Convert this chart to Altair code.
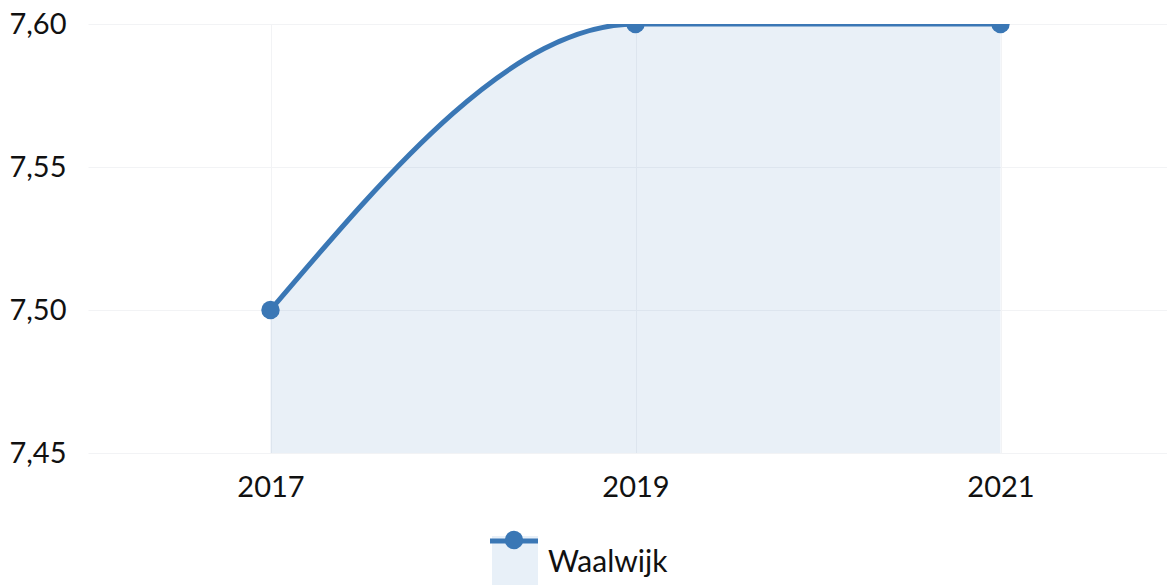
import altair as alt
import pandas as pd

years = ["2017", "2019", "2021"]
values = [7.50, 7.60, 7.60]
series = ["Waalwijk"]
y_ticks = [7.45, 7.50, 7.55, 7.60]
y_domain = [7.45, 7.60]

df = pd.DataFrame({"jaar": years, "waarde": values, "reeks": series * len(years)})
legend_df = pd.DataFrame({"reeks": series})

BLUE = "#3a77b5"
FILL = "#e8f0f8"
GRID = "#f2f3f5"
FONT = "Lato"
FS = 29
W, H = 1095, 429

x = alt.X("jaar:O", scale=alt.Scale(type="point", padding=0.5),
          axis=alt.Axis(title=None, labelAngle=0, labelFontSize=FS, labelPadding=20,
                        ticks=False, domain=False, grid=True, gridColor=GRID,
                        labelFont=FONT, labelColor="#111"))
y = alt.Y("waarde:Q", scale=alt.Scale(domain=y_domain, zero=False, nice=False),
          axis=alt.Axis(title=None, values=y_ticks,
                        labelExpr="replace(format(datum.value, '.2f'), '.', ',')",
                        ticks=False, domain=False, grid=True, gridColor=GRID,
                        labelFontSize=FS, labelPadding=22, labelFont=FONT, labelColor="#111"))

base = alt.Chart(df)
area = base.mark_area(interpolate="monotone", color=BLUE, opacity=0.11, clip=True).encode(x=x, y=y)
line = base.mark_line(interpolate="monotone", color=BLUE, strokeWidth=5, clip=True).encode(x=x, y=y)
points = base.mark_circle(size=340, color=BLUE, opacity=1, clip=True).encode(x=x, y=y)

lb = alt.Chart(legend_df)
leg_rect = lb.mark_rect(color=FILL).encode(
    x=alt.value(404), x2=alt.value(450), y=alt.value(H + 83), y2=alt.value(H + 140))
leg_line = lb.mark_rule(color=BLUE, strokeWidth=5).encode(
    x=alt.value(402), x2=alt.value(450), y=alt.value(H + 88))
leg_pt = lb.mark_circle(size=340, color=BLUE, opacity=1).encode(
    x=alt.value(426), y=alt.value(H + 87))
leg_text = lb.mark_text(align="left", baseline="alphabetic", fontSize=30, font=FONT,
                        color="#111").encode(
    text="reeks:N", x=alt.value(460), y=alt.value(H + 119))

chart = alt.layer(area, line, points, leg_rect, leg_line, leg_pt, leg_text).properties(
    width=W, height=H,
    padding={"left": 0, "top": 2, "right": -16, "bottom": 0},
).configure(background="white").configure_view(stroke=None)

chart.save("out.html", embed_options={"renderer": "svg", "actions": False})
